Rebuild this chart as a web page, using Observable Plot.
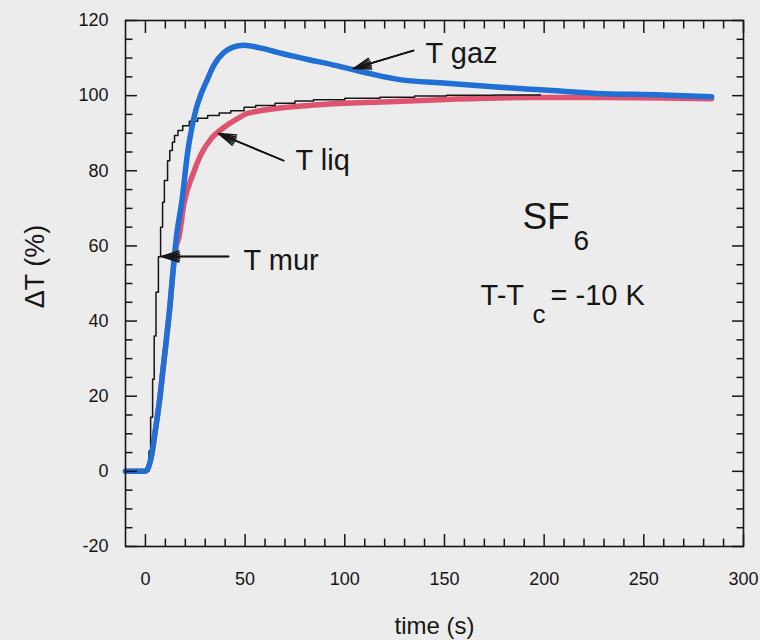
<!DOCTYPE html>
<html>
<head>
<meta charset="utf-8">
<script src="https://cdn.jsdelivr.net/npm/d3@7"></script>
<script src="https://cdn.jsdelivr.net/npm/@observablehq/plot@0.6"></script>
<style>
html, body { margin: 0; padding: 0; background: #ececec; }
#chart { width: 760px; height: 640px; }
</style>
</head>
<body>
<div id="chart"></div>
<script>
// ---- data ----
const murTime  = [-10, 1.8, 2.6, 3.6, 4.4, 5.3, 6.5, 7.6, 8.6, 9.5, 11.1, 12.2, 13.5, 14.6, 16.3, 18.7, 22, 26.2, 31.2, 37, 42.8, 49.5, 55.3, 65, 75, 84.3, 100, 117.6, 135, 151, 175, 198];
const murValue = [0, 5.4, 14.4, 24.5, 36, 47.7, 57.1, 65, 71.6, 77.4, 82.7, 85.4, 87.6, 89.4, 90.7, 92, 93.2, 94, 94.7, 95.4, 96, 96.9, 97.4, 98, 98.6, 98.9, 99.3, 99.6, 99.9, 100.1, 100.2, 100.3];

const gazTime  = [-10, -5, 0, 1, 3, 5, 7.1, 9, 10.8, 12.3, 13.7, 15.7, 18.3, 21.3, 23.3, 25.3, 27.8, 30.8, 34.2, 39.2, 44, 49.2, 57.5, 65.8, 74.2, 82.5, 90.8, 102, 114, 126, 151, 176, 200, 226, 259, 284];
const gazValue = [0, 0, 0, 0.5, 4, 11, 19, 28, 36.5, 44, 52.5, 63, 72, 85.4, 91.5, 96.2, 100.3, 104, 108, 111.4, 112.9, 113.4, 112.7, 111.6, 110.5, 109.5, 108.6, 107.2, 105.7, 104.4, 103.3, 102.3, 101.5, 100.6, 100.2, 99.7];

const liqTime  = [-10, -5, 0, 1, 3, 5, 7.1, 9, 10.8, 12.3, 13.7, 15.5, 16.8, 19.3, 23.9, 28, 32.9, 39.5, 46.2, 52, 84.3, 117.6, 151, 192, 230, 284];
const liqValue = [0, 0, 0, 0.5, 4, 11, 19, 28, 36.5, 44, 52.5, 60, 62.3, 71.2, 79.2, 84.5, 88.5, 91.6, 93.9, 95.4, 97.5, 98.3, 99, 99.5, 99.5, 99.2];

const xMajorTicks = [0, 50, 100, 150, 200, 250, 300];
const xMinorTicks = [10, 20, 30, 40, 60, 70, 80, 90, 110, 120, 130, 140, 160, 170, 180, 190, 210, 220, 230, 240, 260, 270, 280, 290];
const yMajorTicks = [-20, 0, 20, 40, 60, 80, 100, 120];
const yMinorTicks = [-15, -10, -5, 5, 10, 15, 25, 30, 35, 45, 50, 55, 65, 70, 75, 85, 90, 95, 105, 110, 115];

const noteLabels = ["T gaz", "T liq", "T mur"];
const noteX      = [140.5, 75.3, 49.2];
const noteY      = [108.8, 80.1, 53.7];
const arrowFromX = [134.5, 69.3, 41.7];
const arrowFromY = [112, 82.7, 57.2];
const arrowToX   = [104.4, 36.7, 8.2];
const arrowToY   = [107.2, 89.9, 57.2];

// ---- tables built from the arrays ----
const mur = murTime.map((t, i) => ({t, v: murValue[i]}));
const gaz = gazTime.map((t, i) => ({t, v: gazValue[i]}));
const liq = liqTime.map((t, i) => ({t, v: liqValue[i]}));
const notes = noteLabels.map((label, i) => ({label, x: noteX[i], y: noteY[i]}));
const arrows = noteLabels.map((label, i) => ({x1: arrowFromX[i], y1: arrowFromY[i], x2: arrowToX[i], y2: arrowToY[i]}));

const ink = "#161616";
const font = "'Liberation Sans', Arial, Helvetica, sans-serif";
const L = 12, l = 7.5;

const tickAxes = [
  Plot.axisX(xMajorTicks, {anchor: "bottom", tickSize: L, dy: -L, fill: "none", label: null, stroke: ink, strokeWidth: 1.5, tickFormat: () => ""}),
  Plot.axisX(xMinorTicks, {anchor: "bottom", tickSize: l, dy: -l, fill: "none", label: null, stroke: ink, strokeWidth: 1.5, tickFormat: () => ""}),
  Plot.axisX(xMajorTicks, {anchor: "top", tickSize: L, dy: L, fill: "none", label: null, stroke: ink, strokeWidth: 1.5, tickFormat: () => ""}),
  Plot.axisX(xMinorTicks, {anchor: "top", tickSize: l, dy: l, fill: "none", label: null, stroke: ink, strokeWidth: 1.5, tickFormat: () => ""}),
  Plot.axisY(yMajorTicks, {anchor: "left", tickSize: L, dx: L, fill: "none", label: null, stroke: ink, strokeWidth: 1.5, tickFormat: () => ""}),
  Plot.axisY(yMinorTicks, {anchor: "left", tickSize: l, dx: l, fill: "none", label: null, stroke: ink, strokeWidth: 1.5, tickFormat: () => ""}),
  Plot.axisY(yMajorTicks, {anchor: "right", tickSize: L, dx: -L, fill: "none", label: null, stroke: ink, strokeWidth: 1.5, tickFormat: () => ""}),
  Plot.axisY(yMinorTicks, {anchor: "right", tickSize: l, dx: -l, fill: "none", label: null, stroke: ink, strokeWidth: 1.5, tickFormat: () => ""})
];

const chart = Plot.plot({
  width: 760,
  height: 640,
  marginLeft: 125,
  marginRight: 17,
  marginTop: 20,
  marginBottom: 94,
  x: {domain: [-10, 300]},
  y: {domain: [-20, 120]},
  style: {fontFamily: font, background: "#ececec", color: ink},
  marks: [
    Plot.line(liq, {x: "t", y: "v", stroke: "#de5470", strokeWidth: 5.5, curve: "monotone-x"}),
    Plot.line(mur, {x: "t", y: "v", stroke: ink, strokeWidth: 1.5, curve: "step-after"}),
    Plot.line(gaz, {x: "t", y: "v", stroke: "#1f6fd4", strokeWidth: 5.5, curve: "monotone-x"}),
    ...tickAxes,
    Plot.axisX(xMajorTicks, {anchor: "bottom", tickSize: 0, tickPadding: 26, fontSize: 18, label: null, fill: ink, tickFormat: d => String(d)}),
    Plot.axisY(yMajorTicks, {anchor: "left", tickSize: 0, tickPadding: 17, fontSize: 18, label: null, fill: ink, tickFormat: d => String(d)}),
    Plot.frame({stroke: ink, strokeWidth: 1.6}),
    Plot.arrow(arrows, {x1: "x1", y1: "y1", x2: "x2", y2: "y2", stroke: ink, strokeWidth: 1.5, headLength: 18, headAngle: 36}),
    Plot.arrow(arrows, {x1: "x1", y1: "y1", x2: "x2", y2: "y2", stroke: ink, strokeWidth: 1.5, headLength: 18, headAngle: 24}),
    Plot.arrow(arrows, {x1: "x1", y1: "y1", x2: "x2", y2: "y2", stroke: ink, strokeWidth: 1.5, headLength: 18, headAngle: 12}),
    Plot.text(notes, {x: "x", y: "y", text: "label", textAnchor: "start", lineAnchor: "bottom", fontSize: 29, fill: ink}),
    Plot.text(["SF"], {x: 189.1, y: 64.6, textAnchor: "start", lineAnchor: "bottom", fontSize: 37, fill: ink}),
    Plot.text(["6"], {x: 214.7, y: 58.8, textAnchor: "start", lineAnchor: "bottom", fontSize: 28, fill: ink}),
    Plot.text(["T-T"], {x: 168.1, y: 44.4, textAnchor: "start", lineAnchor: "bottom", fontSize: 29, fill: ink}),
    Plot.text(["c"], {x: 194.2, y: 39.6, textAnchor: "start", lineAnchor: "bottom", fontSize: 26, fill: ink}),
    Plot.text(["= -10 K"], {x: 203.2, y: 44.4, textAnchor: "start", lineAnchor: "bottom", fontSize: 29, fill: ink}),
    Plot.text(["time (s)"], {frameAnchor: "bottom", dy: 87, lineAnchor: "bottom", fontSize: 24, fill: ink}),
    Plot.text(["ΔT (%)"], {frameAnchor: "left", dx: -90, dy: -17, rotate: -90, textAnchor: "middle", lineAnchor: "middle", fontSize: 27, fill: ink})
  ]
});
document.getElementById("chart").append(chart);
</script>
</body>
</html>
